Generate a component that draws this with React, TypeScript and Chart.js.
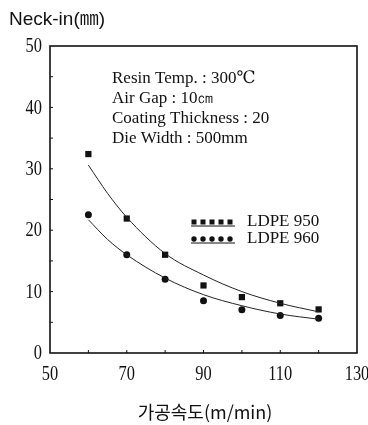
import { useEffect, useRef } from "react";
import { Chart, registerables } from "chart.js";

Chart.register(...registerables);

// Measured neck-in (mm) against line speed (m/min)
const speeds = [60, 70, 80, 90, 100, 110, 120];
const neckIn950 = [32.4, 21.9, 16.0, 11.0, 9.1, 8.1, 7.1];
const neckIn960 = [22.5, 16.0, 12.0, 8.5, 7.05, 6.1, 5.65];

// Fitted trend curves
const fitSpeeds = [60, 65, 70, 80, 90, 100, 110, 120];
const fit950 = [30.6, 26.0, 22.1, 16.2, 12.7, 10.0, 8.1, 6.7];
const fit960 = [21.7, 18.5, 16.0, 12.2, 9.5, 7.7, 6.35, 5.5];

const seriesNames = ["LDPE 950", "LDPE 960"];
const conditionLines = [
  "Resin Temp. : 300\u2103",
  "Air Gap : 10\u339d",
  "Coating Thickness : 20",
  "Die Width : 500mm",
];
const yTitle = "Neck-in(\u339c)";
const xTitle = "가공속도(m/min)";

const SERIF = '"Liberation Serif", "DejaVu Serif", serif';
const SANS = '"Liberation Sans", "Noto Sans CJK KR", sans-serif';
const KR = '"Noto Sans CJK KR", "Noto Sans", sans-serif';

const pairs = (xs: number[], ys: number[]) => xs.map((x, i) => ({ x, y: ys[i] }));

// narrow serif digits for the tick labels
function drawNarrow(ctx: CanvasRenderingContext2D, text: string, x: number, y: number, align: "center" | "right") {
  ctx.save();
  ctx.translate(x, y);
  ctx.scale(0.82, 1);
  ctx.textAlign = align;
  ctx.textBaseline = "middle";
  ctx.fillText(text, 0, 0);
  ctx.restore();
}

const decorPlugin = {
  id: "decor",
  afterDraw(chart: any) {
    const { ctx, chartArea: a, scales } = chart;
    const xs = scales.x;
    const ys = scales.y;
    ctx.save();
    ctx.strokeStyle = "#111";
    ctx.lineWidth = 1.6;
    ctx.strokeRect(a.left, a.top, a.right - a.left, a.bottom - a.top);

    // inward tick marks
    ctx.lineWidth = 1;
    for (let v = 5; v < 50; v += 5) {
      const y = ys.getPixelForValue(v);
      ctx.beginPath();
      ctx.moveTo(a.left, y);
      ctx.lineTo(a.left + 3, y);
      ctx.stroke();
    }
    for (let v = 60; v < 130; v += 10) {
      const x = xs.getPixelForValue(v);
      ctx.beginPath();
      ctx.moveTo(x, a.bottom);
      ctx.lineTo(x, a.bottom - 3);
      ctx.stroke();
    }

    ctx.fillStyle = "#111";
    // tick labels
    ctx.font = `20px ${SERIF}`;
    ys.ticks.forEach((t: any) => {
      drawNarrow(ctx, String(t.value), a.left - 8, ys.getPixelForValue(t.value) + 1, "right");
    });
    xs.ticks.forEach((t: any) => {
      drawNarrow(ctx, String(t.value), xs.getPixelForValue(t.value), a.bottom + 22, "center");
    });

    // y-axis title
    ctx.font = `19px ${SANS}`;
    ctx.textAlign = "left";
    ctx.textBaseline = "middle";
    ctx.fillText(yTitle, 9, 20);

    // x-axis title
    ctx.font = `18px ${KR}`;
    ctx.textAlign = "center";
    ctx.fillText(xTitle, 205, 412);

    // process conditions
    ctx.font = `17px ${SERIF}`;
    ctx.textAlign = "left";
    conditionLines.forEach((t, i) => ctx.fillText(t, 112, 79 + i * 20));

    // legend
    const lx = 194;
    const rows = [222, 239];
    rows.forEach((ry, r) => {
      for (let i = 0; i < 5; i++) {
        const cx = lx + i * 9;
        if (r === 0) {
          ctx.fillRect(cx - 2.5, ry - 2.5, 5, 5);
        } else {
          ctx.beginPath();
          ctx.arc(cx, ry, 2.7, 0, Math.PI * 2);
          ctx.fill();
        }
      }
      ctx.beginPath();
      ctx.moveTo(lx - 3, ry + 4);
      ctx.lineTo(lx + 41, ry + 4);
      ctx.stroke();
      ctx.font = `17px ${SERIF}`;
      ctx.fillText(seriesNames[r], 247, ry);
    });
    ctx.restore();
  },
};

export default function App() {
  const ref = useRef<HTMLCanvasElement | null>(null);

  useEffect(() => {
    if (!ref.current) return;
    const chart = new Chart(ref.current, {
      type: "scatter",
      data: {
        datasets: [
          {
            label: "fit950",
            data: pairs(fitSpeeds, fit950),
            showLine: true,
            borderColor: "#222",
            borderWidth: 1,
            pointRadius: 0,
            cubicInterpolationMode: "monotone",
          },
          {
            label: "fit960",
            data: pairs(fitSpeeds, fit960),
            showLine: true,
            borderColor: "#222",
            borderWidth: 1,
            pointRadius: 0,
            cubicInterpolationMode: "monotone",
          },
          {
            label: seriesNames[0],
            data: pairs(speeds, neckIn950),
            pointStyle: "rect",
            pointRadius: 4.4,
            backgroundColor: "#111",
            borderColor: "#111",
            borderWidth: 0,
          },
          {
            label: seriesNames[1],
            data: pairs(speeds, neckIn960),
            pointStyle: "circle",
            pointRadius: 3.5,
            backgroundColor: "#111",
            borderColor: "#111",
            borderWidth: 0,
          },
        ],
      } as any,
      options: {
        animation: false,
        responsive: false,
        events: [],
        layout: { autoPadding: false, padding: { top: 46, right: 11, left: 0, bottom: 0 } },
        plugins: {
          legend: { display: false },
          tooltip: { enabled: false },
          title: { display: false },
        },
        scales: {
          x: {
            type: "linear",
            min: 50,
            max: 130,
            grid: { display: false, drawTicks: false },
            border: { display: false },
            ticks: { stepSize: 20, display: false },
            afterFit: (s: any) => {
              s.height = 72;
              s.paddingLeft = 0;
              s.paddingRight = 0;
            },
          },
          y: {
            type: "linear",
            min: 0,
            max: 50,
            grid: { display: false, drawTicks: false },
            border: { display: false },
            ticks: { stepSize: 10, display: false },
            afterFit: (s: any) => {
              s.width = 50;
              s.paddingTop = 0;
              s.paddingBottom = 0;
            },
          },
        },
      } as any,
      plugins: [decorPlugin],
    });
    return () => chart.destroy();
  }, []);

  return (
    <div style={{ position: "absolute", left: 0, top: 0, width: 368, height: 425, background: "#fff" }}>
      <canvas ref={ref} width={368} height={425} style={{ display: "block" }} />
    </div>
  );
}
